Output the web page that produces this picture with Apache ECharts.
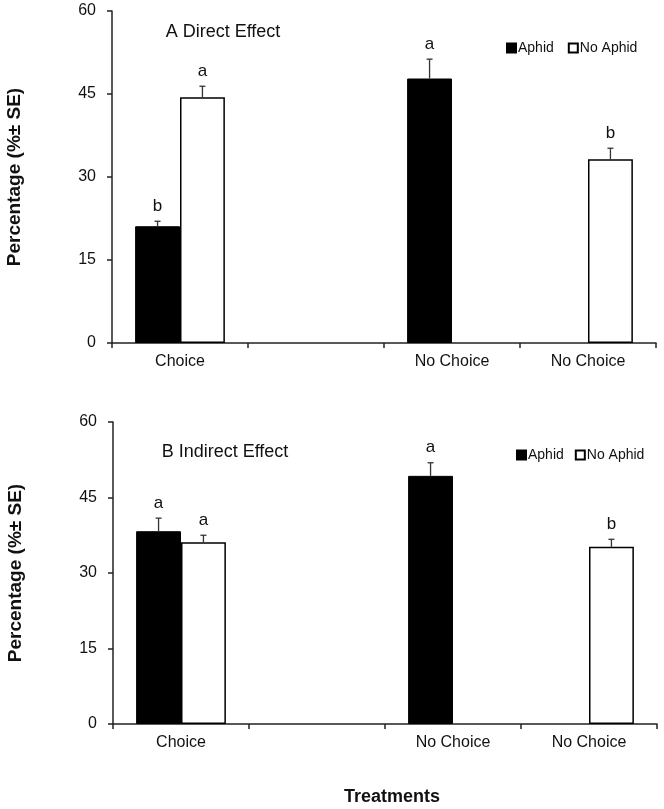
<!DOCTYPE html>
<html>
<head>
<meta charset="utf-8">
<script src="https://cdn.jsdelivr.net/npm/echarts@6/dist/echarts.min.js"></script>
<style>
html,body{margin:0;padding:0;background:#fff;}
#chart{width:664px;height:809px;}
</style>
</head>
<body>
<div id="chart"></div>
<script>
// ---- data ----
const categories = ['Choice', '', 'No Choice', 'No Choice'];
const seriesNames = ['Aphid', 'No Aphid'];
const yMin = 0, yMax = 60, yInterval = 15;

const aAphid = [21.1, null, 47.8, null];
const aAphidSE = [0.9, null, 3.5, null];
const aAphidLetters = ['b', '', 'a', ''];
const aNoAphid = [44.4, null, null, 33.2];
const aNoAphidSE = [2.0, null, null, 2.0];
const aNoAphidLetters = ['a', '', '', 'b'];

const bAphid = [38.3, null, 49.3, null];
const bAphidSE = [2.6, null, 2.6, null];
const bAphidLetters = ['a', '', 'a', ''];
const bNoAphid = [36.1, null, null, 35.2];
const bNoAphidSE = [1.4, null, null, 1.5];
const bNoAphidLetters = ['a', '', '', 'b'];

const panelTitles = ['A Direct Effect', 'B Indirect Effect'];
const yAxisTitle = 'Percentage (%\u00B1 SE)';
const xAxisTitle = 'Treatments';

// ---- styling ----
const FONT = '"Liberation Sans", Arial, sans-serif';
const BAR_W = 0.33;

function errData(vals, ses, letters) {
  const out = [];
  vals.forEach((v, i) => {
    if (v != null) out.push([i, v, v + ses[i], letters[i]]);
  });
  return out;
}

function errSeries(gridIdx, side, vals, ses, letters) {
  return {
    type: 'custom',
    xAxisIndex: gridIdx, yAxisIndex: gridIdx,
    z: 5,
    silent: true,
    data: errData(vals, ses, letters),
    renderItem: function (params, api) {
      const c = api.coord([api.value(0), api.value(1)]);
      const t = api.coord([api.value(0), api.value(2)]);
      const catW = api.size([1, 0])[0];
      const x = c[0] + side * catW * BAR_W / 2;
      return {
        type: 'group',
        children: [
          { type: 'line', shape: { x1: x, y1: c[1], x2: x, y2: t[1] }, style: { stroke: '#333', lineWidth: 1.3 } },
          { type: 'line', shape: { x1: x - 3, y1: t[1], x2: x + 3, y2: t[1] }, style: { stroke: '#333', lineWidth: 1.3 } },
          { type: 'text', x: x, y: t[1] - 15, style: { text: api.value(3), fontFamily: FONT, fontSize: 17, fill: '#111', textAlign: 'center', textVerticalAlign: 'middle' } }
        ]
      };
    }
  };
}

function barSeries(gridIdx, name, vals) {
  const isAphid = name === 'Aphid';
  return {
    type: 'bar', name: name,
    xAxisIndex: gridIdx, yAxisIndex: gridIdx,
    data: vals,
    barWidth: (BAR_W * 100) + '%',
    barGap: '0%',
    itemStyle: { color: isAphid ? '#000' : '#fff', borderColor: '#000', borderWidth: isAphid ? 1 : 1.5 },
    emphasis: { disabled: true },
    silent: true
  };
}

const grids = [
  { left: 112, top: 11, width: 544, height: 332, containLabel: false, outerBoundsMode: 'none' },
  { left: 113, top: 422, width: 544, height: 302, containLabel: false, outerBoundsMode: 'none' }
];

function xAxisOpt(gi) {
  return {
    type: 'category', gridIndex: gi, data: categories,
    axisLine: { lineStyle: { color: '#222', width: 1.5 } },
    axisTick: { show: true, length: 5, lineStyle: { color: '#222', width: 1.5 }, alignWithLabel: false, interval: 0 },
    axisLabel: { color: '#111', fontFamily: FONT, fontSize: 16, margin: 11, interval: 0 },
    splitLine: { show: false }
  };
}
function yAxisOpt(gi) {
  return {
    type: 'value', gridIndex: gi, min: yMin, max: yMax, interval: yInterval,
    name: yAxisTitle, nameLocation: 'middle', nameRotate: 90, nameGap: 88,
    nameTextStyle: { color: '#111', fontFamily: FONT, fontSize: 19, fontWeight: 'bold' },
    axisLine: { show: true, lineStyle: { color: '#222', width: 1.5 } },
    axisTick: { show: true, length: 5, lineStyle: { color: '#222', width: 1.5 } },
    axisLabel: { color: '#111', fontFamily: FONT, fontSize: 16, margin: 16 },
    splitLine: { show: false }
  };
}

const legendCommon = {
  orient: 'horizontal', icon: 'rect', itemWidth: 9, itemHeight: 9,
  data: seriesNames, selectedMode: false,
  textStyle: { color: '#111', fontFamily: FONT, fontSize: 14, padding: [0, 0, 0, -3] }
};

const option = {
  animation: false,
  backgroundColor: '#fff',
  grid: grids,
  xAxis: [xAxisOpt(0), xAxisOpt(1)],
  yAxis: [yAxisOpt(0), yAxisOpt(1)],
  legend: [
    Object.assign({}, legendCommon, { left: 501, top: 36, itemGap: 14 }),
    Object.assign({}, legendCommon, { left: 511, top: 443, itemGap: 11 })
  ],
  series: [
    barSeries(0, 'Aphid', aAphid),
    barSeries(0, 'No Aphid', aNoAphid),
    errSeries(0, -1, aAphid, aAphidSE, aAphidLetters),
    errSeries(0, 1, aNoAphid, aNoAphidSE, aNoAphidLetters),
    barSeries(1, 'Aphid', bAphid),
    barSeries(1, 'No Aphid', bNoAphid),
    errSeries(1, -1, bAphid, bAphidSE, bAphidLetters),
    errSeries(1, 1, bNoAphid, bNoAphidSE, bNoAphidLetters)
  ],
  graphic: [
    { type: 'text', x: 223, y: 32, style: { text: panelTitles[0], fontFamily: FONT, fontSize: 18, fill: '#111', textAlign: 'center', textVerticalAlign: 'middle' } },
    { type: 'text', x: 225, y: 452, style: { text: panelTitles[1], fontFamily: FONT, fontSize: 18, fill: '#111', textAlign: 'center', textVerticalAlign: 'middle' } },
    { type: 'text', x: 392, y: 797, style: { text: xAxisTitle, fontFamily: FONT, fontSize: 18, fontWeight: 'bold', fill: '#111', textAlign: 'center', textVerticalAlign: 'middle' } }
  ]
};

const chart = echarts.init(document.getElementById('chart'), null, { renderer: 'canvas' });
chart.setOption(option);
</script>
</body>
</html>
